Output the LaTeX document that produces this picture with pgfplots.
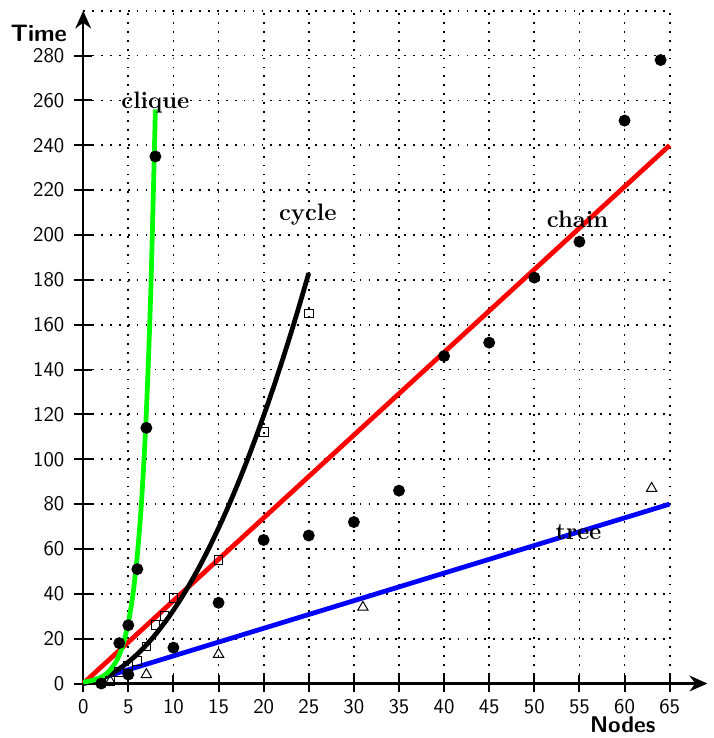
\documentclass[border=0pt]{standalone}
\usepackage{pgfplots}
\pgfplotsset{compat=1.18}
\usetikzlibrary{arrows.meta}
\begin{document}
\begin{tikzpicture}
\begin{axis}[
 width=296pt, height=339.6pt, scale only axis,
 xmin=0, xmax=65, ymin=0, ymax=300,
 axis lines=middle,
 hide obscured x ticks=false, hide obscured y ticks=false,
 axis line style={line width=1.2pt},
 x axis line style={-{Stealth[length=9pt,width=8pt]}, shorten >=-19pt},
 y axis line style={-{Stealth[length=9pt,width=8pt]}},
 xtick={0,5,...,65}, ytick={0,20,...,280},
 extra y ticks={300}, extra y tick labels={},
 extra y tick style={grid=major, major tick length=0pt},
 grid=major,
 major grid style={black, line width=0.9pt, dash pattern=on 0.9pt off 3.6pt},
 tick align=center, major tick length=9pt,
 tick style={black, line width=1pt},
 ticklabel style={font=\sffamily\fontsize{10.5}{12}\selectfont},
 xticklabel style={yshift=0pt},
 yticklabel style={xshift=-1.5pt},
 /pgf/number format/assume math mode=true,
 clip=false,
]
\coordinate (O) at (axis cs:0,0);
% filled circles
\addplot[only marks, mark=*, mark size=2.8pt, black] coordinates {
 (2,0) (4,18) (5,4) (5,26) (6,51) (7,114) (8,235) (10,16) (15,36)
 (20,64) (25,66) (30,72) (35,86) (40,146) (45,152) (50,181) (55,197)
 (60,251) (64,278)};
% open squares
\addplot[only marks, mark=square, mark size=2.2pt, black, line width=0.5pt] coordinates {
 (3,1) (4,5) (5,8) (6,10) (7,16.5) (8,26) (9,30) (10,38) (15,55) (20,112) (25,165)};
% open triangles
\addplot[only marks, mark=triangle, mark size=3pt, black, line width=0.5pt] coordinates {
 (3,1) (7,4) (15,13) (31,34) (63,87)};
% tree
\addplot[blue, line width=2.4pt] coordinates {(0,0) (65,80)};
% chain
\addplot[red, line width=2.4pt] coordinates {(0,0) (65,240)};
% cycle
\addplot[black, line width=2.4pt, smooth] coordinates {
 (0,0) (1,0.84) (2,2.2) (3,4.1) (4,6.6) (5,9.6) (6,13.1) (7,17.2) (8,21.8)
 (9,27.0) (10,32.7) (11,38.9) (12,45.7) (13,53.0) (14,60.9) (15,69.3)
 (16,78.2) (17,87.7) (18,97.7) (19,108.3) (20,119.4) (21,131.0) (22,143.2)
 (23,155.9) (24,169.2) (25,183.0)};
% clique
\addplot[green, line width=2.4pt, smooth] coordinates {
 (0,0.64) (1,1.35) (2,2.86) (2.5,4.16) (3,6.06) (3.5,8.8) (4,12.8) (4.5,18.6)
 (5,27.1) (5.5,39.4) (6,57.3) (6.5,83.3) (7,121.2) (7.5,176.3) (8,256)};
\node[font=\large\bfseries] at (axis cs:8,259) {clique};
\node[font=\large\bfseries] at (axis cs:24.9,209) {cycle};
\node[font=\large\bfseries] at (axis cs:54.8,207) {chain};
\node[font=\large\bfseries] at (axis cs:54.9,67.6) {tree};
\node[font=\sffamily\bfseries\large, anchor=east, xshift=-4.7pt] at (axis cs:0,290) {Time};
\node[font=\sffamily\bfseries\fontsize{11.5}{13}\selectfont, yshift=-21pt, inner sep=0pt] at (axis cs:59.8,0) {Nodes};
\end{axis}
\pgfresetboundingbox
\path (O) ++(-42pt,-27.5pt) rectangle ++(360pt,372.5pt);
\end{tikzpicture}
\end{document}
